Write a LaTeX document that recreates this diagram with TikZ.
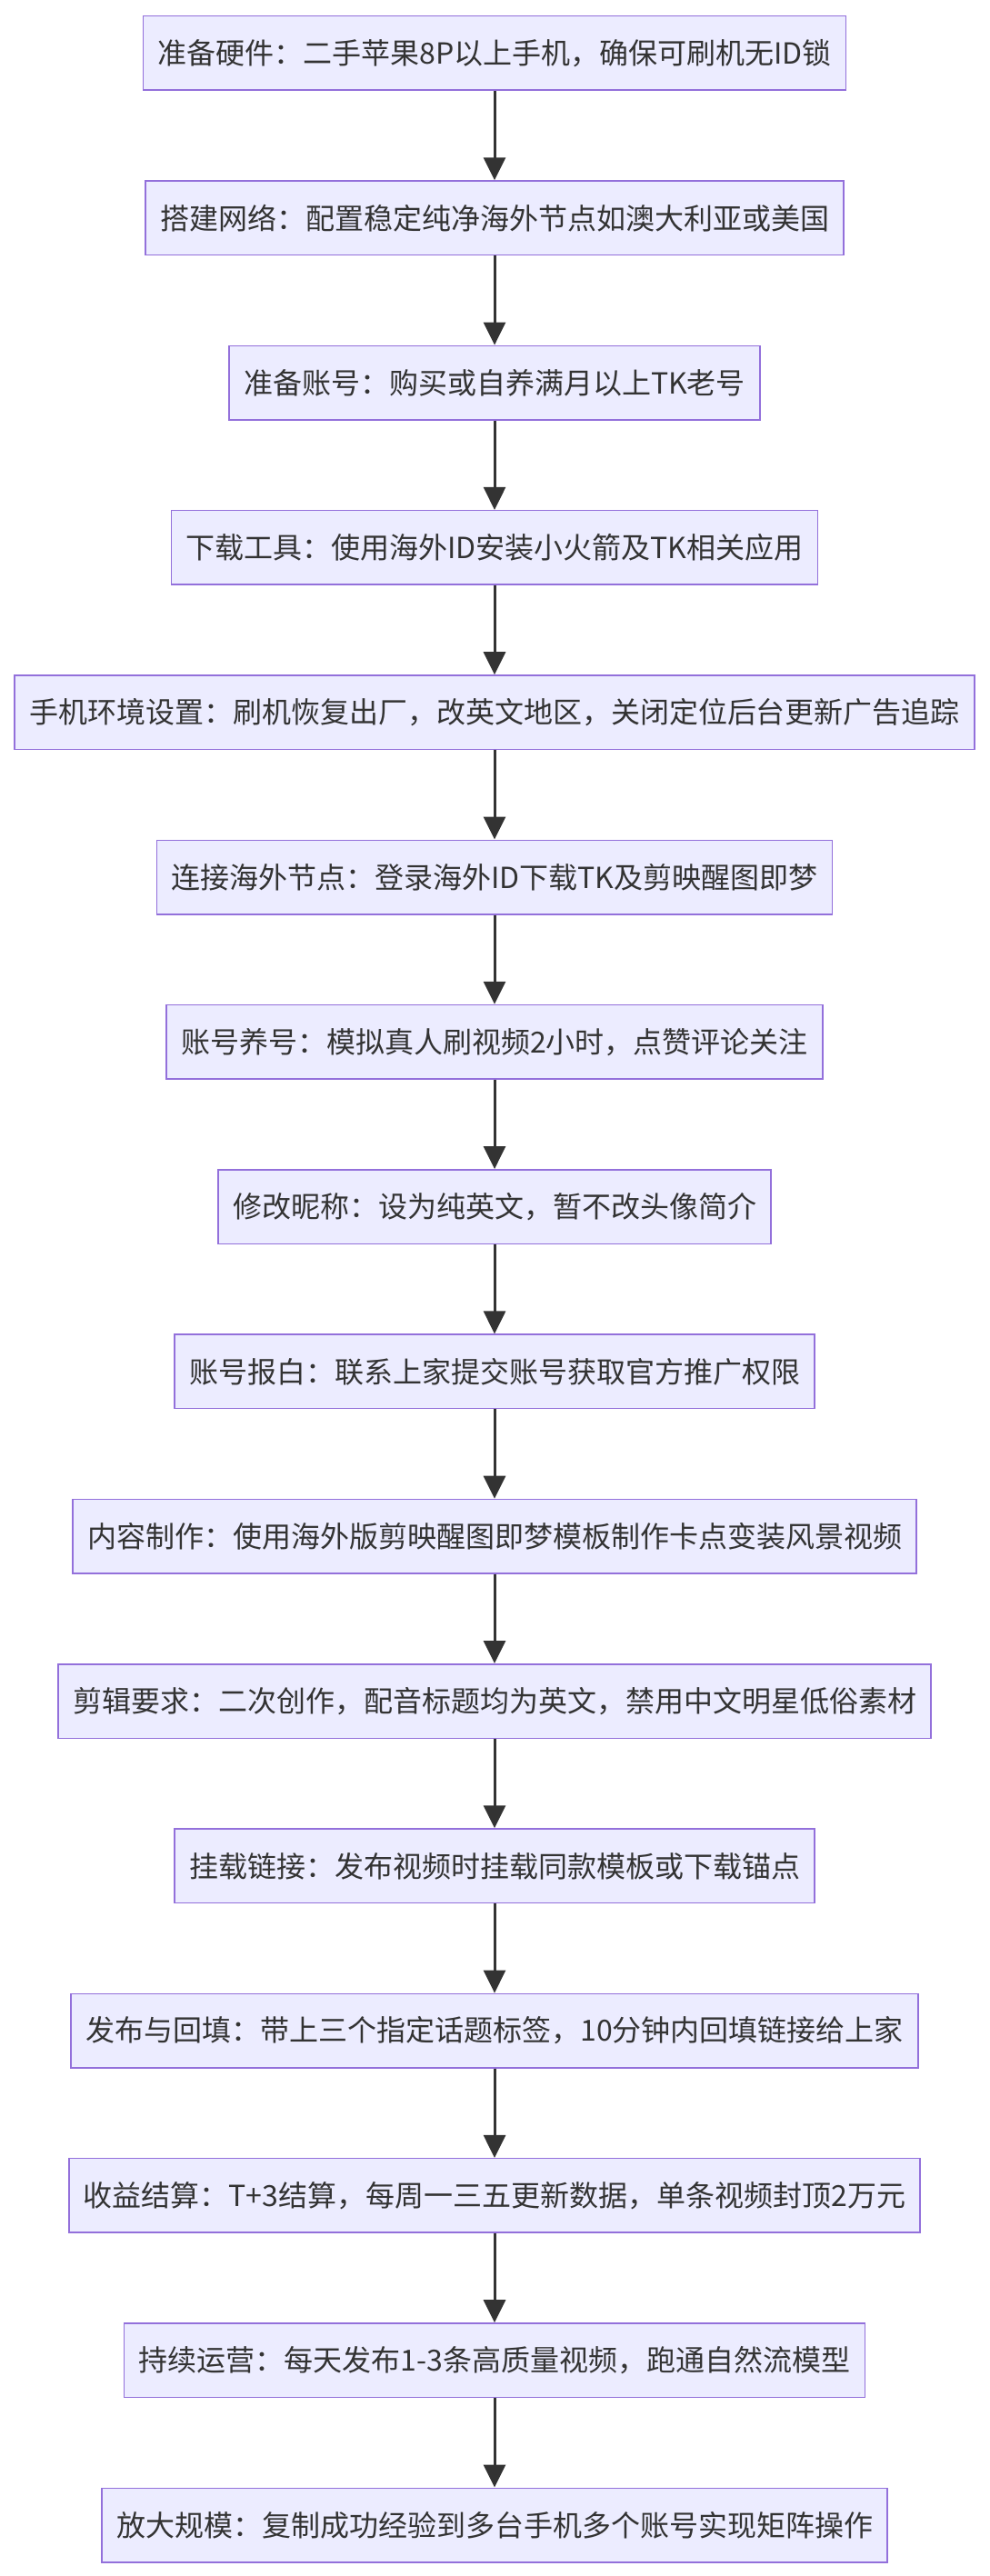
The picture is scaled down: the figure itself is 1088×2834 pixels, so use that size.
\documentclass[tikz,border=0pt]{standalone}
\usepackage{fontspec}
\setmainfont{Noto Sans CJK SC}
\usepackage{tikz}
\usetikzlibrary{arrows.meta,positioning}
\definecolor{boxfill}{HTML}{ECECFF}
\definecolor{boxline}{HTML}{9370DB}
\definecolor{ink}{HTML}{333333}

\begin{document}
\begin{tikzpicture}[node distance=98.3pt, every node/.style={font=\fontsize{32pt}{38pt}\selectfont, text=ink}, box/.style={draw=boxline,fill=boxfill,line width=1.5pt,inner xsep=16pt,minimum height=81.5pt}, >={Triangle[length=25pt,width=24pt]}]
\useasboundingbox (0,0) rectangle (1088pt,-2834pt);
\node[box] (hardware) at (544pt,-58.5pt) {准备硬件：二手苹果8P以上手机，确保可刷机无ID锁};
\node[box, below=of hardware] (network) {搭建网络：配置稳定纯净海外节点如澳大利亚或美国};
\node[box, below=of network] (account) {准备账号：购买或自养满月以上TK老号};
\node[box, below=of account] (apps) {下载工具：使用海外ID安装小火箭及TK相关应用};
\node[box, below=of apps] (phone) {手机环境设置：刷机恢复出厂，改英文地区，关闭定位后台更新广告追踪};
\node[box, below=of phone] (login) {连接海外节点：登录海外ID下载TK及剪映醒图即梦};
\node[box, below=of login] (warmup) {账号养号：模拟真人刷视频2小时，点赞评论关注};
\node[box, below=of warmup] (nickname) {修改昵称：设为纯英文，暂不改头像简介};
\node[box, below=of nickname] (whitelist) {账号报白：联系上家提交账号获取官方推广权限};
\node[box, below=of whitelist] (content) {内容制作：使用海外版剪映醒图即梦模板制作卡点变装风景视频};
\node[box, below=of content] (editing) {剪辑要求：二次创作，配音标题均为英文，禁用中文明星低俗素材};
\node[box, below=of editing] (linking) {挂载链接：发布视频时挂载同款模板或下载锚点};
\node[box, below=of linking] (publish) {发布与回填：带上三个指定话题标签，10分钟内回填链接给上家};
\node[box, below=of publish] (payout) {收益结算：T+3结算，每周一三五更新数据，单条视频封顶2万元};
\node[box, below=of payout] (operate) {持续运营：每天发布1-3条高质量视频，跑通自然流模型};
\node[box, below=of operate] (expand) {放大规模：复制成功经验到多台手机多个账号实现矩阵操作};
\draw[->, ink, line width=3pt] (hardware) -- (network);
\draw[->, ink, line width=3pt] (network) -- (account);
\draw[->, ink, line width=3pt] (account) -- (apps);
\draw[->, ink, line width=3pt] (apps) -- (phone);
\draw[->, ink, line width=3pt] (phone) -- (login);
\draw[->, ink, line width=3pt] (login) -- (warmup);
\draw[->, ink, line width=3pt] (warmup) -- (nickname);
\draw[->, ink, line width=3pt] (nickname) -- (whitelist);
\draw[->, ink, line width=3pt] (whitelist) -- (content);
\draw[->, ink, line width=3pt] (content) -- (editing);
\draw[->, ink, line width=3pt] (editing) -- (linking);
\draw[->, ink, line width=3pt] (linking) -- (publish);
\draw[->, ink, line width=3pt] (publish) -- (payout);
\draw[->, ink, line width=3pt] (payout) -- (operate);
\draw[->, ink, line width=3pt] (operate) -- (expand);
\end{tikzpicture}
\end{document}
